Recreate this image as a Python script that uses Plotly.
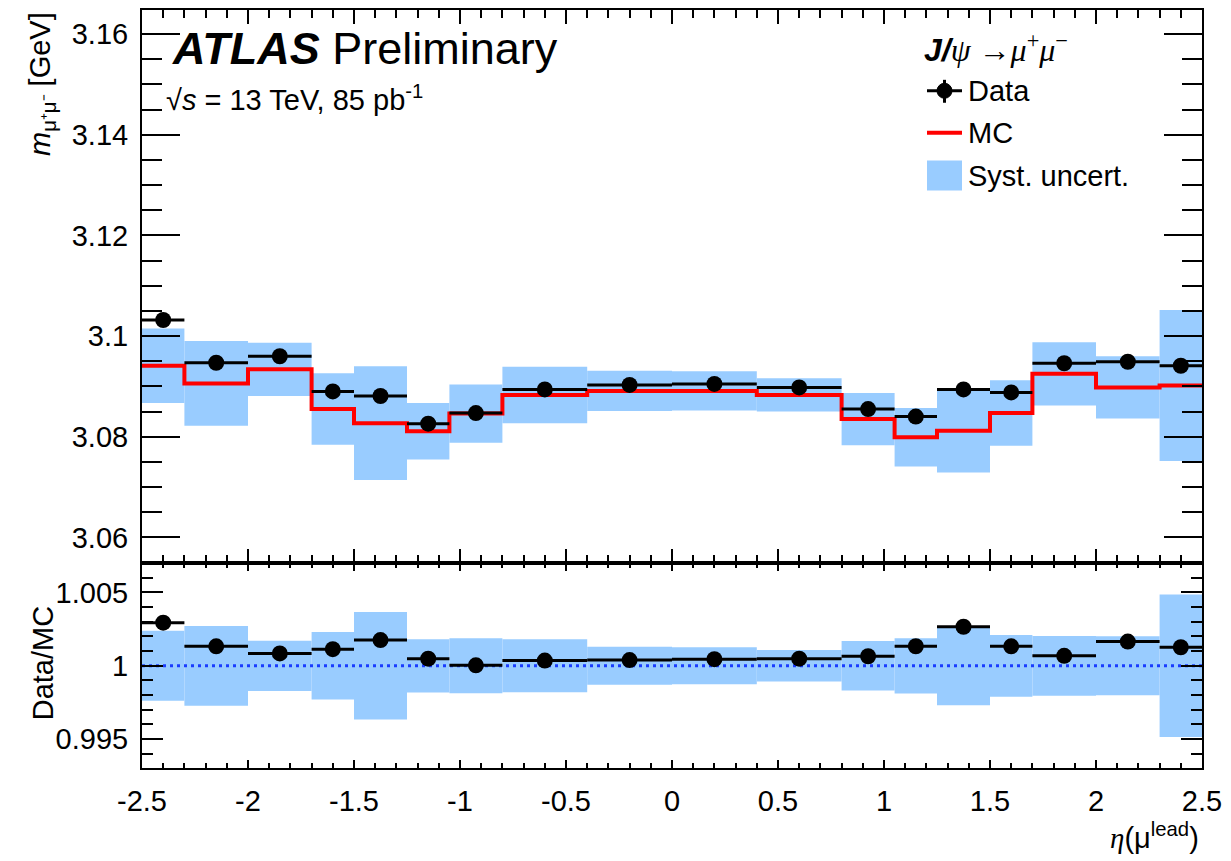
import numpy as np
import plotly.graph_objects as go

# eta bin edges of the leading muon
eta_edges = [-2.5, -2.3, -2.0, -1.7, -1.5, -1.25, -1.05, -0.8, -0.4, 0.0,
             0.4, 0.8, 1.05, 1.25, 1.5, 1.7, 2.0, 2.3, 2.5]

# fitted J/psi mass per bin [GeV]
data_mass = [3.1032, 3.0947, 3.0960, 3.0890, 3.0881, 3.0826, 3.0847, 3.0894, 3.0903,
             3.0905, 3.0898, 3.0855, 3.0840, 3.0894, 3.0888, 3.0946, 3.0949, 3.0941]
mc_mass = [3.0941, 3.0906, 3.0934, 3.0855, 3.0827, 3.0811, 3.0846, 3.0883, 3.0891,
           3.0891, 3.0883, 3.0835, 3.0799, 3.0812, 3.0847, 3.0925, 3.0898, 3.0902]
# systematic uncertainty on the MC prediction [GeV]
syst_unc = [0.0074, 0.0084, 0.0053, 0.0071, 0.0113, 0.0056, 0.0058, 0.0056, 0.0040,
            0.0039, 0.0033, 0.0052, 0.0058, 0.0083, 0.0065, 0.0063, 0.0062, 0.0150]

x_tickvals = [-2.5, -2, -1.5, -1, -0.5, 0, 0.5, 1, 1.5, 2, 2.5]
x_ticktext = ["-2.5", "-2", "-1.5", "-1", "-0.5", "0", "0.5", "1", "1.5", "2", "2.5"]
y_tickvals = [3.06, 3.08, 3.10, 3.12, 3.14, 3.16]
y_ticktext = ["3.06", "3.08", "3.1", "3.12", "3.14", "3.16"]
r_tickvals = [0.995, 1.0, 1.005]
r_ticktext = ["0.995", "1", "1.005"]

edges = np.array(eta_edges)
centers = 0.5 * (edges[1:] + edges[:-1])
widths = edges[1:] - edges[:-1]
data = np.array(data_mass)
mc = np.array(mc_mass)
syst = np.array(syst_unc)
ratio = data / mc
rel_syst = syst / mc

BAND = "#99ccff"
FONT = "Liberation Sans"
FS = 29

fig = go.Figure()

# main panel
fig.add_trace(go.Bar(x=centers, y=2 * syst, base=mc - syst, width=widths,
                     marker=dict(color=BAND, line=dict(width=0)),
                     xaxis="x", yaxis="y", hoverinfo="skip"))
fig.add_trace(go.Scatter(x=edges, y=np.append(mc, mc[-1]), mode="lines",
                         line=dict(color="#ff0000", width=4, shape="hv"),
                         xaxis="x", yaxis="y"))
fig.add_trace(go.Scatter(x=centers, y=data, mode="markers",
                         marker=dict(size=16, color="black"),
                         error_x=dict(type="data", array=widths / 2, thickness=3,
                                      width=0, color="black"),
                         xaxis="x", yaxis="y"))

# ratio panel
fig.add_trace(go.Bar(x=centers, y=2 * rel_syst, base=1 - rel_syst, width=widths,
                     marker=dict(color=BAND, line=dict(width=0)),
                     xaxis="x2", yaxis="y2", hoverinfo="skip"))
fig.add_trace(go.Scatter(x=[edges[0], edges[-1]], y=[1, 1], mode="lines",
                         line=dict(color="#1a3cff", width=3, dash="3px,4px"),
                         xaxis="x2", yaxis="y2"))
fig.add_trace(go.Scatter(x=centers, y=ratio, mode="markers",
                         marker=dict(size=16, color="black"),
                         error_x=dict(type="data", array=widths / 2, thickness=3,
                                      width=0, color="black"),
                         xaxis="x2", yaxis="y2"))

L, R, T, B = 142, 29, 8, 93
W, H = 1231, 861
PW, PH = W - L - R, H - T - B
split = 206 / PH


def px(xp):
    return (xp - L) / PW


def py(yp):
    return (H - B - yp) / PH


axis_common = dict(showline=True, linewidth=2, linecolor="black", mirror="allticks",
                   ticks="inside", tickwidth=2, tickcolor="black", showgrid=False,
                   zeroline=False)

fig.update_layout(
    width=W, height=H,
    margin=dict(l=L, r=R, t=T, b=B),
    paper_bgcolor="white", plot_bgcolor="white",
    showlegend=False, barmode="overlay",
    font=dict(family=FONT, size=FS, color="black"),
    xaxis=dict(domain=[0, 1], anchor="y", range=[-2.5, 2.5], matches="x2",
               tickmode="array", tickvals=x_tickvals, ticktext=x_ticktext,
               showticklabels=False, ticklen=14,
               minor=dict(ticks="inside", ticklen=8, dtick=0.1, tickwidth=2,
                          tickcolor="black", showgrid=False),
               **axis_common),
    yaxis=dict(domain=[split, 1], anchor="x", range=[3.055, 3.1648],
               tickmode="array", tickvals=y_tickvals, ticktext=y_ticktext,
               ticklen=38, ticklabelstandoff=6,
               tickfont=dict(family=FONT, size=FS),
               minor=dict(ticks="inside", ticklen=20, dtick=0.005, tickwidth=2,
                          tickcolor="black", showgrid=False),
               **axis_common),
    xaxis2=dict(domain=[0, 1], anchor="y2", range=[-2.5, 2.5],
                tickmode="array", tickvals=x_tickvals, ticktext=x_ticktext,
                ticklen=8, ticklabelstandoff=6,
                tickfont=dict(family=FONT, size=FS),
                minor=dict(ticks="inside", ticklen=5, dtick=0.1, tickwidth=2,
                           tickcolor="black", showgrid=False),
                **axis_common),
    yaxis2=dict(domain=[0, split], anchor="x2", range=[0.99303, 1.00704],
                tickmode="array", tickvals=r_tickvals, ticktext=r_ticktext,
                ticklen=21, ticklabelstandoff=6,
                tickfont=dict(family=FONT, size=FS),
                minor=dict(ticks="inside", ticklen=11, dtick=0.001, tickwidth=2,
                           tickcolor="black", showgrid=False),
                **axis_common),
)

annotations = [
    dict(x=px(170), y=py(47), xanchor="left", yanchor="middle",
         text="<b><i>ATLAS</i></b> Preliminary", font=dict(size=45)),
    dict(x=px(164), y=py(96), xanchor="left", yanchor="middle",
         text="√<i>s</i> = 13 TeV, 85 pb<sup>-1</sup>", font=dict(size=29)),
    dict(x=px(922), y=py(46), xanchor="left", yanchor="middle",
         text=("<b><i>J/</i></b><span style=\"font-family:'Liberation Serif'\">"
               "<i>ψ</i> →<i>μ</i><sup>+</sup><i>μ</i><sup>−</sup></span>"),
         font=dict(size=32)),
    dict(x=px(966), y=py(89), xanchor="left", yanchor="middle",
         text="Data", font=dict(size=29)),
    dict(x=px(966), y=py(131), xanchor="left", yanchor="middle",
         text="MC", font=dict(size=29)),
    dict(x=px(966), y=py(174), xanchor="left", yanchor="middle",
         text="Syst. uncert.", font=dict(size=29)),
    dict(x=px(42), y=1, xanchor="center", yanchor="top", textangle=-90,
         text="<i>m</i><sub>μ⁺μ⁻</sub> [GeV]", font=dict(size=29)),
    dict(x=px(43), y=py(663), xanchor="center", yanchor="middle", textangle=-90,
         text="Data/MC", font=dict(size=29)),
    dict(x=px(1201), y=py(836), xanchor="right", yanchor="middle",
         text=("<span style=\"font-family:'Liberation Serif'\"><i>η</i></span>"
               "(μ<sup>lead</sup>)"), font=dict(size=29)),
]
for a in annotations:
    a.update(xref="paper", yref="paper", showarrow=False)
fig.update_layout(annotations=annotations)

# legend symbols
shapes = [
    dict(type="rect", x0=px(927), x1=px(962), y0=py(189), y1=py(159),
         fillcolor=BAND, line=dict(width=0)),
    dict(type="line", x0=px(927), x1=px(962), y0=py(131), y1=py(131),
         line=dict(color="#ff0000", width=4)),
    dict(type="line", x0=px(927), x1=px(962), y0=py(89), y1=py(89),
         line=dict(color="black", width=3)),
    dict(type="line", x0=px(944.5), x1=px(944.5), y0=py(78), y1=py(101),
         line=dict(color="black", width=3)),
    dict(type="circle", x0=px(937), x1=px(952), y0=py(96.5), y1=py(81.5),
         fillcolor="black", line=dict(color="black", width=1)),
]
for s in shapes:
    s.update(xref="paper", yref="paper")
fig.update_layout(shapes=shapes)

fig.write_html("out.html")
